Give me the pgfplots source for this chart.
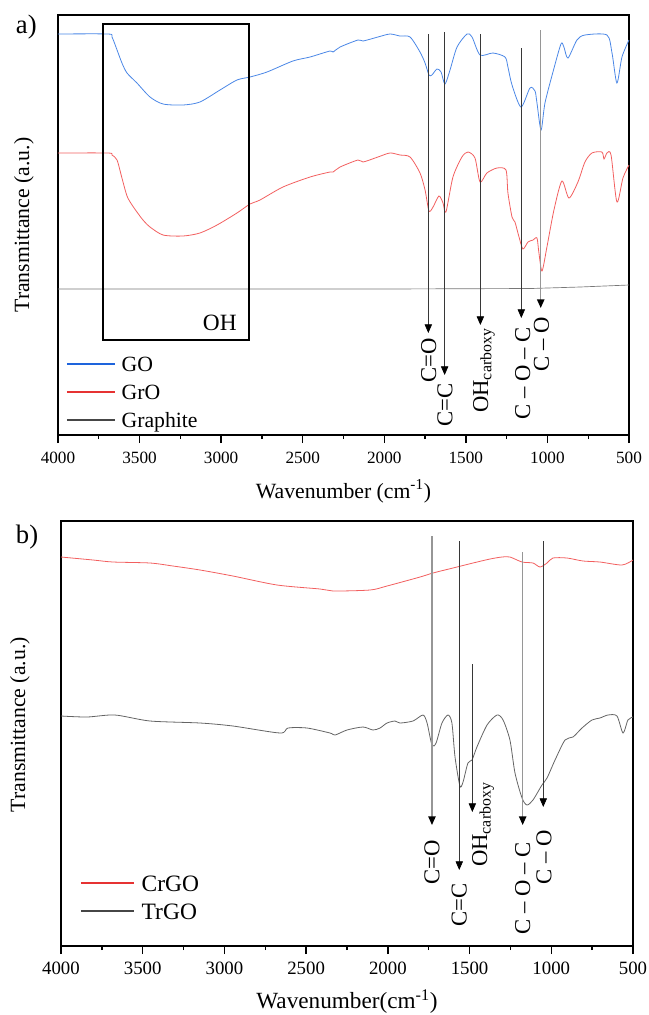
\documentclass[border=0pt]{standalone}
\usepackage{fontspec}
\setmainfont{Liberation Serif}
\usepackage{pgfplots}
\pgfplotsset{compat=1.18}
\usetikzlibrary{arrows.meta}

\definecolor{goblue}{RGB}{75,135,230}
\definecolor{grored}{RGB}{242,95,95}
\definecolor{graphgray}{RGB}{120,120,120}
\definecolor{trgray}{RGB}{100,100,100}
\definecolor{legblue}{RGB}{30,100,220}
\definecolor{legred}{RGB}{230,50,50}
\definecolor{leggray}{RGB}{70,70,70}
\definecolor{annodark}{RGB}{55,55,55}
\definecolor{annolight}{RGB}{150,150,150}

\tikzset{
  anno/.style={line width=0.55pt, annodark, -{Triangle[width=5.5pt,length=6.5pt,color=black]}},
  annol/.style={line width=1.1pt, annolight, -{Triangle[width=5.5pt,length=6.5pt,color=black]}},
}

\pgfplotsset{
  ftir/.style={
    scale only axis,
    x dir=reverse,
    xmin=500, xmax=4000,
    xtick={500,1000,...,4000},
    minor x tick num=1,
    xtick pos=bottom,
    tick align=outside,
    ytick=\empty,
    major tick length=6pt,
    minor tick length=3pt,
    every tick/.style={black, line width=1pt},
    axis line style={line width=1pt},
    scaled x ticks=false,
    /pgf/number format/assume math mode=true,
    /pgf/number format/1000 sep={},
    clip=false,
    legend cell align=left,
  },
}

\begin{document}
\begin{tikzpicture}
\useasboundingbox (0pt,0pt) rectangle (486.75pt,-761.25pt);

% ---------------- panel a ----------------
\begin{axis}[ftir,
  at={(43.5pt,-326.25pt)}, anchor=south west,
  width=428.25pt, height=315pt,
  ymin=0, ymax=420,
  xticklabel style={font=\fontsize{12.9}{15}\selectfont, anchor=base, yshift=-15pt},
  xlabel={Wavenumber (cm\textsuperscript{-1})},
  ylabel={Transmittance (a.u.)},
  every axis x label/.style={at={(axis description cs:0.5,-0.15)}, anchor=base, font=\fontsize{16.3}{19}\selectfont},
  every axis y label/.style={at={(axis description cs:-0.0595,0.5)}, rotate=90, anchor=center, font=\fontsize{16.3}{19}\selectfont},
  legend style={at={(axis description cs:0,0)}, anchor=south west, xshift=6pt, yshift=1.25pt,
    draw=none, fill=none, inner sep=0pt, row sep=5pt, column sep=4.5pt,
    font=\fontsize{16.3}{19}\selectfont,
    nodes={inner sep=0pt, text height=12pt, text depth=4pt}},
  legend image code/.code={\draw[#1, line width=1pt] (0pt,1.8pt) -- (36pt,1.8pt);},
]
\addlegendimage{legblue}
\addlegendentry{GO}
\addlegendimage{legred}
\addlegendentry{GrO}
\addlegendimage{leggray}
\addlegendentry{Graphite}
\addplot[goblue, line width=0.6pt, smooth, tension=0.45, forget plot] coordinates {
(4000,401) (3694,401) (3669,398) (3638,385) (3608,372) (3577,362) (3516,352)
(3436,338) (3356,331) (3234,330) (3130,333) (3007,345) (2903,355) (2823,358)
(2719,363) (2560,374) (2455,378) (2333,384) (2314,383) (2271,388) (2161,395)
(2130,394) (2039,398) (1965,401) (1904,399) (1842,398) (1781,383) (1750,372)
(1726,360) (1708,360) (1677,366) (1652,363) (1628,351) (1597,365) (1554,388)
(1493,401) (1462,398) (1413,380) (1334,382) (1260,378) (1242,368) (1217,350)
(1162,328) (1107,347) (1076,344) (1064,332) (1039,305) (1015,332) (966,363)
(917,391) (899,388) (874,377) (819,395) (770,400) (635,400) (604,382)
(574,352) (543,378) (500,395)
};
\addplot[grored, line width=0.6pt, smooth, tension=0.45, forget plot] coordinates {
(4000,282) (3694,282) (3669,280) (3638,275) (3608,257) (3577,239) (3546,230)
(3516,223) (3479,215) (3436,208) (3356,200) (3234,199) (3130,202) (3025,210)
(2903,222) (2823,231) (2762,235) (2621,248) (2455,258) (2333,263) (2314,263)
(2271,268) (2161,275) (2130,273) (2039,278) (1965,282) (1904,280) (1842,278)
(1781,262) (1750,245) (1726,224) (1701,228) (1665,239) (1640,232) (1622,223)
(1579,258) (1524,278) (1487,283) (1444,277) (1413,253) (1371,262) (1309,267)
(1254,265) (1242,242) (1217,218) (1199,213) (1174,198) (1150,186) (1119,193)
(1088,195) (1064,197) (1052,182) (1033,164) (1003,188) (960,225) (911,254)
(868,237) (813,253) (770,273) (727,282) (666,283) (653,276) (635,282)
(610,280) (574,233) (537,257) (500,270)
};
\addplot[graphgray, line width=0.5pt, forget plot] coordinates {
(4000,146) (3000,146) (2000,146) (1100,146.5) (800,148) (500,150)
};

% OH box
\draw[black, line width=0.8pt] (axis cs:3724,95) rectangle (axis cs:2829,411);
\node[anchor=base east, inner sep=0pt, font=\fontsize{17.5}{20}\selectfont] at (axis cs:2903,105) {OH};

% arrows
\draw[anno]  (axis cs:1730,401) -- (axis cs:1730,102);
\draw[anno]  (axis cs:1630,403) -- (axis cs:1630,60);
\draw[anno]  (axis cs:1411,401) -- (axis cs:1411,110);
\draw[anno]  (axis cs:1160,387) -- (axis cs:1160,117);
\draw[annol] (axis cs:1041,405) -- (axis cs:1041,127);

\node[rotate=90, anchor=east, inner sep=0pt, font=\fontsize{17}{20}\selectfont] at (axis cs:1727,97) {C=O};
\node[rotate=90, anchor=east, inner sep=0pt, font=\fontsize{17}{20}\selectfont] at (axis cs:1628,52) {C=C};
\node[rotate=90, anchor=base east, inner sep=0pt, font=\fontsize{17}{20}\selectfont] at (axis cs:1364,107) {OH\textsubscript{carboxy}};
\node[rotate=90, anchor=east, inner sep=0pt, font=\fontsize{17}{20}\selectfont] at (axis cs:1151,108) {C \textendash{} O \textendash{} C};
\node[rotate=90, anchor=east, inner sep=0pt, font=\fontsize{17}{20}\selectfont] at (axis cs:1036,118) {C \textendash{} O};

\node[anchor=base west, inner sep=0pt, font=\fontsize{20}{24}\selectfont] at (axis description cs:-0.0741,0.957) {a)};
\end{axis}

% ---------------- panel b ----------------
\begin{axis}[ftir,
  at={(45.75pt,-709.5pt)}, anchor=south west,
  width=429pt, height=318.75pt,
  ymin=0, ymax=425,
  xticklabel style={font=\fontsize{14.1}{16}\selectfont, anchor=base, yshift=-15pt},
  xlabel={Wavenumber(cm\textsuperscript{-1})},
  ylabel={Transmittance (a.u.)},
  every axis x label/.style={at={(axis description cs:0.5,-0.147)}, anchor=base, font=\fontsize{17.4}{21}\selectfont},
  every axis y label/.style={at={(axis description cs:-0.0717,0.521)}, rotate=90, anchor=center, font=\fontsize{16.3}{19}\selectfont},
  legend style={at={(axis description cs:0,0)}, anchor=south west, xshift=14.25pt, yshift=15.5pt,
    draw=none, fill=none, inner sep=0pt, row sep=4pt, column sep=5.25pt,
    font=\fontsize{17.6}{21}\selectfont,
    nodes={inner sep=0pt, text height=13pt, text depth=4pt}},
  legend image code/.code={\draw[#1, line width=1.1pt] (0pt,2pt) -- (39.75pt,2pt);},
]
\addlegendimage{legred}
\addlegendentry{CrGO}
\addlegendimage{leggray}
\addlegendentry{TrGO}
\addplot[grored, line width=0.6pt, smooth, tension=0.45, forget plot] coordinates {
(4000,389) (3804,386) (3682,384) (3455,383) (3315,380) (3149,376) (2948,370)
(2678,361) (2415,357) (2336,355) (2109,356) (2005,360) (1803,369) (1724,373)
(1577,379) (1479,383) (1375,387) (1302,389) (1253,389) (1179,384) (1112,383)
(1069,379) (1026,383) (990,388) (904,388) (806,385) (702,384) (567,381) (500,386)
};
\addplot[trgray, line width=0.6pt, smooth, tension=0.45, forget plot] coordinates {
(4000,230) (3841,229) (3670,231) (3455,225) (3149,223) (2948,220) (2660,213)
(2611,218) (2495,218) (2354,213) (2323,211) (2250,216) (2152,219) (2091,216)
(2048,218) (2005,223) (1956,225) (1926,223) (1846,225) (1785,231) (1760,223)
(1730,201) (1705,203) (1669,223) (1632,231) (1608,223) (1589,189) (1559,160)
(1540,164) (1510,183) (1485,186) (1455,199) (1393,221) (1332,231) (1295,226)
(1253,206) (1222,173) (1179,148) (1149,141) (1112,146) (1057,161) (1026,168)
(977,186) (916,206) (867,209) (812,218) (751,226) (702,228) (653,231) (598,230)
(561,213) (531,226) (500,229)
};

\draw[annol] (axis cs:1730,410) -- (axis cs:1730,121);
\draw[anno]  (axis cs:1563,405) -- (axis cs:1563,76);
\draw[anno]  (axis cs:1483,282) -- (axis cs:1483,134);
\draw[annol] (axis cs:1175,394) -- (axis cs:1175,121);
\draw[anno]  (axis cs:1049,405) -- (axis cs:1049,139);

\node[rotate=90, anchor=east, inner sep=0pt, font=\fontsize{17}{20}\selectfont] at (axis cs:1730,106) {C=O};
\node[rotate=90, anchor=east, inner sep=0pt, font=\fontsize{17}{20}\selectfont] at (axis cs:1563,63) {C=C};
\node[rotate=90, anchor=base east, inner sep=0pt, font=\fontsize{17}{20}\selectfont] at (axis cs:1393,164) {OH\textsubscript{carboxy}};
\node[rotate=90, anchor=east, inner sep=0pt, font=\fontsize{17}{20}\selectfont] at (axis cs:1175,104) {C \textendash{} O \textendash{} C};
\node[rotate=90, anchor=east, inner sep=0pt, font=\fontsize{17}{20}\selectfont] at (axis cs:1045,116) {C \textendash{} O};

\node[anchor=base west, inner sep=0pt, font=\fontsize{20}{24}\selectfont] at (axis description cs:-0.0792,0.948) {b)};
\end{axis}
\end{tikzpicture}
\end{document}
